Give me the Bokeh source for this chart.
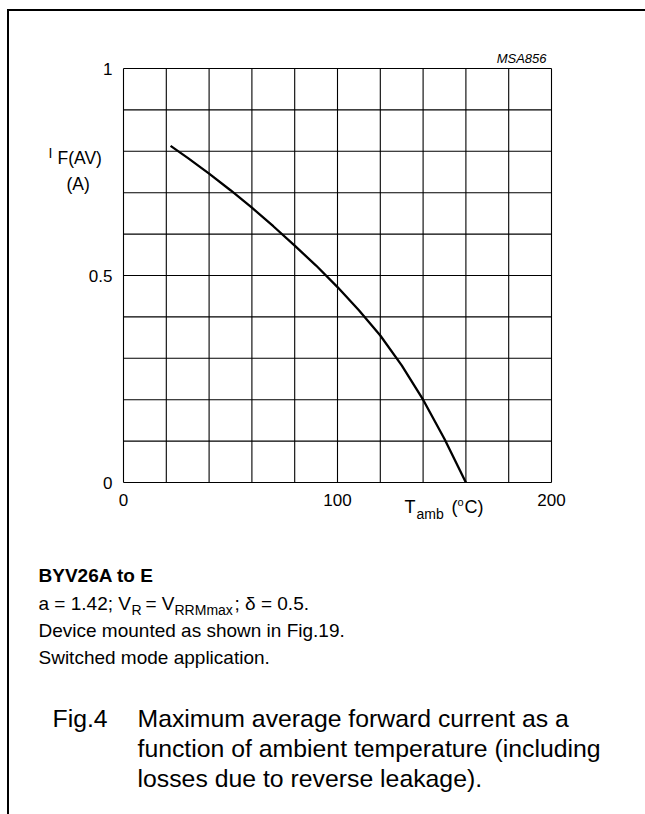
from bokeh.plotting import figure
from bokeh.models import Label, FixedTicker, Range1d, BoxAnnotation
from bokeh.embed import file_html
from bokeh.resources import INLINE

# ---- data ----
temp_c = [22, 30, 40, 50, 60, 70, 80, 90, 100, 110, 120, 130, 140, 150, 160]
i_fav = [0.813, 0.784, 0.746, 0.706, 0.664, 0.619, 0.572, 0.524, 0.472,
         0.416, 0.355, 0.283, 0.200, 0.105, 0.0]
x_ticks = [0, 100, 200]
y_ticks = [0, 0.5, 1]
x_grid = [0, 20, 40, 60, 80, 100, 120, 140, 160, 180, 200]
y_grid = [0.0, 0.1, 0.2, 0.3, 0.4, 0.5, 0.6, 0.7, 0.8, 0.9, 1.0]
x_lim = (0, 200)
y_lim = (0, 1)

FONT = "Liberation Sans"
W, H = 645, 814
# where the chart box sits on the canvas (pixels)
FL, FT, FW, FH = 123, 68, 428, 414
sx = FW / (x_lim[1] - x_lim[0])
sy = FH / (y_lim[1] - y_lim[0])
xr = Range1d(x_lim[0] - FL / sx, x_lim[1] + (W - FL - FW) / sx)
yr = Range1d(y_lim[0] - (H - FT - FH) / sy, y_lim[1] + FT / sy)

p = figure(width=W, height=H, output_backend="svg", toolbar_location=None,
           x_range=xr, y_range=yr, min_border=0,
           min_border_left=0, min_border_right=0,
           min_border_top=0, min_border_bottom=0)
p.background_fill_color = "white"
p.border_fill_color = "white"
p.outline_line_color = None
p.grid.visible = False

for ax in (p.xaxis[0], p.yaxis[0]):
    ax.axis_line_color = None
    ax.major_tick_line_color = None
    ax.minor_tick_line_color = None
    ax.major_tick_out = 0
    ax.major_tick_in = 0
    ax.major_label_text_font = FONT
    ax.major_label_text_font_size = "17px"
    ax.major_label_text_color = "black"
p.xaxis.fixed_location = y_lim[0]
p.yaxis.fixed_location = x_lim[0]
p.xaxis.ticker = FixedTicker(ticks=x_ticks)
p.yaxis.ticker = FixedTicker(ticks=y_ticks)
p.xaxis.major_label_standoff = 11
p.yaxis.major_label_standoff = 11
p.xaxis.major_label_overrides = {0: "0", 100: "100", 200: "200"}
p.yaxis.major_label_overrides = {0: "0", 0.5: "0.5", 1: "1"}

# grid of the chart box
p.segment(x0=x_grid, y0=[y_lim[0]] * len(x_grid), x1=x_grid, y1=[y_lim[1]] * len(x_grid),
          line_color="black", line_width=1.1)
p.segment(x0=[x_lim[0]] * len(y_grid), y0=y_grid, x1=[x_lim[1]] * len(y_grid), y1=y_grid,
          line_color="black", line_width=1.1)

p.line(temp_c, i_fav, line_color="black", line_width=2.3)

K = 0.35  # rendered text sits this fraction of the size below the given y

def txt(s, px, py, size, style="normal", align="left"):
    p.add_layout(Label(x=px, y=py - K * size, x_units="canvas", y_units="canvas",
                       text=s, text_font=FONT,
                       text_font_size=f"{size}px", text_font_style=style,
                       text_align=align, text_baseline="alphabetic",
                       text_color="black"))

def bar(l, r, t, b):
    p.add_layout(BoxAnnotation(left=l, right=r, top=t, bottom=b,
                               left_units="canvas", right_units="canvas",
                               top_units="canvas", bottom_units="canvas",
                               fill_color="black", fill_alpha=1.0,
                               line_color=None))

# page frame lines
bar(6.5, 645, 8.5, 10.5)
bar(6.5, 8.5, 8.5, 814)

txt("MSA856", 546, 62.5, 13, style="italic", align="right")

# y axis label
txt("I", 48, 157, 14)
txt("F(AV)", 57, 164, 17.5)
txt("(A)", 66, 190, 17.5)

# x axis label
txt("T", 404, 513, 18)
txt("amb", 416, 518, 14)
txt("(", 451, 513, 18)
txt("o", 457, 505, 11)
txt("C)", 464, 513, 18)

# notes
txt("BYV26A to E", 38, 582, 19, style="bold")
txt("a = 1.42; V", 38, 610, 19)
txt("R", 131, 614, 14)
txt("= V", 145, 610, 19)
txt("RRMmax", 174, 614, 14)
txt("; \u03b4 = 0.5.", 234, 610, 19)
txt("Device mounted as shown in Fig.19.", 38, 637, 19)
txt("Switched mode application.", 38, 664, 19)

# caption
txt("Fig.4", 52, 727, 24.8)
txt("Maximum average forward current as a", 137, 727, 24.8)
txt("function of ambient temperature (including", 137, 757, 24.8)
txt("losses due to reverse leakage).", 137, 787, 24.8)

open("out.html", "w").write(file_html(p, INLINE))
